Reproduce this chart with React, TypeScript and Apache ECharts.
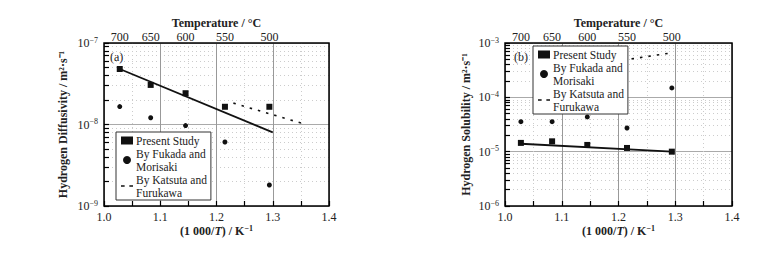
import React, { useEffect, useRef } from "react";
import * as echarts from "echarts";

// ---- data ----
const temps = [700, 650, 600, 550, 500];
const invT = [1.028, 1.083, 1.145, 1.215, 1.294];

const diffPresent = [4.8e-8, 3.06e-8, 2.42e-8, 1.65e-8, 1.65e-8];
const diffFukada = [1.66e-8, 1.21e-8, 9.7e-9, 6.1e-9, 1.81e-9];
const diffFitX = [1.028, 1.3];
const diffFitY = [4.8e-8, 8.0e-9];
const diffKatX = [1.23, 1.357];
const diffKatY = [1.83e-8, 1.01e-8];

const solPresent = [1.45e-5, 1.55e-5, 1.33e-5, 1.17e-5, 1.0e-5];
const solFukada = [3.56e-5, 3.56e-5, 4.36e-5, 2.73e-5, 1.49e-4];
const solFitX = [1.028, 1.294];
const solFitY = [1.4e-5, 1.0e-5];
const solKatX = [1.223, 1.294];
const solKatY = [5.1e-4, 6.6e-4];

const xTicks = [1.0, 1.1, 1.2, 1.3, 1.4];
const diffDecades = [-9, -7];
const solDecades = [-6, -3];

const NAME_PRESENT = "Present Study";
const NAME_FUKADA = "By Fukada and\nMorisaki";
const NAME_KATSUTA = "By Katsuta and\nFurukawa";

const FONT = "'Liberation Serif', 'Times New Roman', serif";

function minorLogs(lo: number, hi: number) {
  const out: number[] = [];
  for (let n = lo; n < hi; n++) {
    for (let k = 2; k <= 9; k++) out.push(n + Math.log10(k));
  }
  return out;
}

const supRich = {
  b: { fontFamily: FONT, fontSize: 12, color: "#222", lineHeight: 14 },
  s: { fontFamily: FONT, fontSize: 8, color: "#222", verticalAlign: "top", lineHeight: 14, padding: [0, 0, 6, 0] },
};

function pts(xs: number[], ys: number[]) {
  return xs.map((x, i) => [x, Math.log10(ys[i])]);
}

function xAxes(gridIndex: number) {
  return [
    {
      type: "value",
      gridIndex,
      position: "bottom",
      min: xTicks[0],
      max: xTicks[xTicks.length - 1],
      interval: 0.1,
      axisLine: { show: false },
      axisTick: { show: true, inside: true, length: 5, lineStyle: { color: "#000", width: 1.2 } },
      minorTick: { show: true, splitNumber: 2, length: 5, lineStyle: { color: "#000", width: 1.2 } },
      axisLabel: {
        margin: 5,
        fontFamily: FONT,
        fontSize: 12,
        color: "#222",
        formatter: (v: number) => v.toFixed(1),
      },
      splitLine: { show: true, lineStyle: { color: "#999", width: 1 } },
      minorSplitLine: { show: true, lineStyle: { color: "#ccc", width: 1, type: [1, 3] } },
      name: "{b|(1 000/}{i|T}{b|) / K}{s|−1}",
      nameLocation: "middle",
      nameMoveOverlap: false,
      nameGap: 18,
      nameTextStyle: {
        rich: {
          b: { fontFamily: FONT, fontSize: 12, fontWeight: "bold", color: "#222", lineHeight: 14 },
          i: { fontFamily: FONT, fontSize: 12, fontWeight: "bold", fontStyle: "italic", color: "#222", lineHeight: 14 },
          s: { fontFamily: FONT, fontSize: 8, fontWeight: "bold", color: "#222", verticalAlign: "top", lineHeight: 14, padding: [0, 0, 6, 0] },
        },
      },
    },
    {
      type: "value",
      gridIndex,
      position: "top",
      min: xTicks[0],
      max: xTicks[xTicks.length - 1],
      axisLine: { show: false },
      axisTick: { show: false },
      splitLine: { show: false },
      axisLabel: {
        customValues: invT,
        margin: 0,
        fontFamily: FONT,
        fontSize: 12,
        color: "#222",
        formatter: (v: number) => {
          const i = invT.findIndex((x) => Math.abs(x - v) < 1e-6);
          return i >= 0 ? String(temps[i]) : "";
        },
      },
      name: "Temperature / °C",
      nameLocation: "middle",
      nameMoveOverlap: false,
      nameGap: 14,
      nameTextStyle: { fontFamily: FONT, fontSize: 12, fontWeight: "bold", color: "#222" },
    },
  ];
}

function yAxes(gridIndex: number, dec: number[], title: string, gap: number) {
  return [
    {
      type: "value",
      gridIndex,
      position: "left",
      min: dec[0],
      max: dec[1],
      interval: 1,
      axisLine: { show: false },
      axisTick: { show: true, inside: true, length: 5, lineStyle: { color: "#000", width: 1.2 } },
      axisLabel: {
        margin: 6,
        formatter: (v: number) => `{b|10}{s|−${Math.abs(v)}}`,
        rich: supRich,
      },
      splitLine: { show: true, lineStyle: { color: "#aaa", width: 1 } },
      name: title,
      nameLocation: "middle",
      nameMoveOverlap: false,
      nameGap: gap,
      nameTextStyle: { fontFamily: FONT, fontSize: 12, fontWeight: "bold", color: "#222" },
    },
    {
      type: "value",
      gridIndex,
      position: "left",
      min: dec[0],
      max: dec[1],
      axisLine: { show: false },
      axisLabel: { show: false },
      axisTick: {
        show: true,
        inside: true,
        length: 5,
        customValues: minorLogs(dec[0], dec[1]),
        lineStyle: { color: "#000", width: 1.2 },
      },
      splitLine: { show: true, lineStyle: { color: "#ccc", width: 1, type: [1, 3] } },
    },
  ];
}

function seriesFor(xi: number, yi: number, present: number[], fukada: number[], fitX: number[], fitY: number[], katX: number[], katY: number[]) {
  return [
    {
      name: NAME_PRESENT,
      type: "scatter",
      xAxisIndex: xi,
      yAxisIndex: yi,
      symbol: "rect",
      symbolSize: 6,
      itemStyle: { color: "#111", opacity: 1 },
      data: pts(invT, present),
      z: 5,
    },
    {
      name: NAME_FUKADA,
      type: "scatter",
      xAxisIndex: xi,
      yAxisIndex: yi,
      symbol: "circle",
      symbolSize: 5,
      itemStyle: { color: "#111", opacity: 1 },
      data: pts(invT, fukada),
      z: 5,
    },
    {
      name: "fit",
      type: "line",
      xAxisIndex: xi,
      yAxisIndex: yi,
      symbol: "none",
      lineStyle: { color: "#111", width: 1.8 },
      data: pts(fitX, fitY),
      z: 4,
    },
    {
      name: NAME_KATSUTA,
      type: "line",
      xAxisIndex: xi,
      yAxisIndex: yi,
      symbol: "none",
      itemStyle: { color: "#111" },
      lineStyle: { color: "#111", width: 1.6, type: [2.5, 6] },
      data: pts(katX, katY),
      z: 4,
    },
  ];
}

function legendAt(left: number, top: number) {
  return {
    left,
    top,
    orient: "vertical",
    selectedMode: false,
    backgroundColor: "#fff",
    borderColor: "#333",
    borderWidth: 1,
    padding: [2, 4, 1, 5],
    itemGap: 0,
    itemWidth: 12,
    itemHeight: 8,
    textStyle: { fontFamily: FONT, fontSize: 11.5, lineHeight: 13, color: "#222", padding: [0, 0, 0, -2] },
    data: [
      { name: NAME_PRESENT, icon: "rect", itemStyle: { color: "#111", opacity: 1 } },
      { name: NAME_FUKADA, icon: "circle", itemStyle: { color: "#111", opacity: 1 } },
      {
        name: NAME_KATSUTA,
        icon: "path://M0,0h3.5v1.4h-3.5z M8,0h3.5v1.4h-3.5z",
        itemStyle: { color: "#111", opacity: 1 },
        lineStyle: { width: 0 },
      },
    ],
    z: 10,
  };
}

export default function App() {
  const ref = useRef<HTMLDivElement>(null);
  useEffect(() => {
    if (!ref.current) return;
    const chart = echarts.init(ref.current, null, { renderer: "svg" });
    const option: any = {
      animation: false,
      backgroundColor: "#fff",
      grid: [
        { left: 104, right: 436, top: 43, bottom: 48, show: true, borderColor: "#000", borderWidth: 1.5, backgroundColor: "transparent", z: 3 },
        { left: 505, right: 33, top: 43, bottom: 48, show: true, borderColor: "#000", borderWidth: 1.5, backgroundColor: "transparent", z: 3 },
      ],
      xAxis: [...xAxes(0), ...xAxes(1)],
      yAxis: [
        ...yAxes(0, diffDecades, "Hydrogen Diffusivity / m²·s⁻¹", 35),
        ...yAxes(1, solDecades, "Hydrogen Solubility / m²·s⁻¹", 33),
      ],
      legend: [legendAt(116, 132), legendAt(533, 46)],
      graphic: [
        { type: "text", left: 110, top: 51, style: { text: "(a)", fontFamily: FONT, fontSize: 12, fill: "#222" } },
        { type: "text", left: 514, top: 51, style: { text: "(b)", fontFamily: FONT, fontSize: 12, fill: "#222" } },
      ],
      series: [
        ...seriesFor(0, 0, diffPresent, diffFukada, diffFitX, diffFitY, diffKatX, diffKatY),
        ...seriesFor(2, 2, solPresent, solFukada, solFitX, solFitY, solKatX, solKatY),
      ],
    };
    chart.setOption(option);
    return () => chart.dispose();
  }, []);
  return (
    <div
      ref={ref}
      style={{ position: "absolute", left: 0, top: 0, width: 765, height: 254 }}
    />
  );
}
